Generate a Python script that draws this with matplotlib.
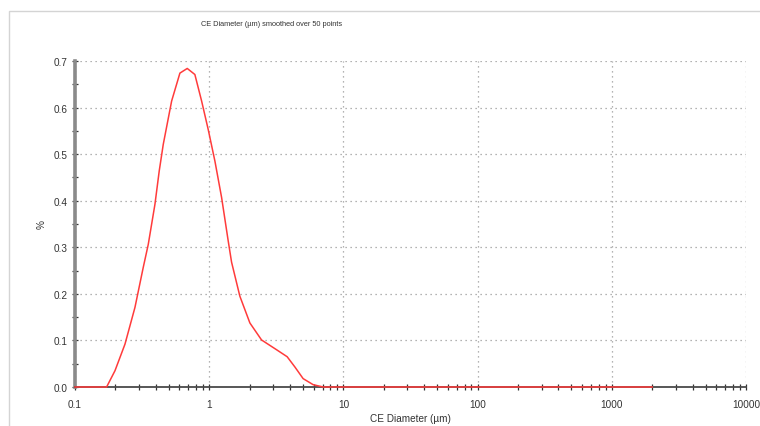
import numpy as np
import matplotlib
matplotlib.use("Agg")
import matplotlib.pyplot as plt
from matplotlib.patches import Rectangle
from matplotlib.ticker import MultipleLocator, LogLocator, FixedLocator

plt.rcParams["font.family"] = ["Liberation Sans", "DejaVu Sans"]

# Particle size distribution (CE diameter in µm vs. volume %)
diameter = [0.1, 0.172, 0.1986, 0.2357, 0.2798, 0.3226, 0.3514, 0.394, 0.4243,
            0.4546, 0.5248, 0.605, 0.686, 0.782, 0.878, 0.983, 1.103, 1.237,
            1.385, 1.468, 1.692, 2.01, 2.455, 3.177, 3.81, 4.35, 5.01, 5.95,
            7.06, 10.0, 100.0, 1000.0, 2000.0]
percent = [0.0, 0.0, 0.035, 0.092, 0.171, 0.257, 0.306, 0.392, 0.464,
           0.521, 0.614, 0.674, 0.684, 0.671, 0.614, 0.553, 0.485, 0.407,
           0.314, 0.268, 0.195, 0.1375, 0.101, 0.080, 0.065, 0.043, 0.018, 0.005,
           0.0, 0.0, 0.0, 0.0, 0.0]

x_ticks = [0.1, 1, 10, 100, 1000, 10000]
x_tick_labels = ["0.1", "1", "10", "100", "1000", "10000"]
y_ticks = [0.0, 0.1, 0.2, 0.3, 0.4, 0.5, 0.6, 0.7]
y_tick_labels = ["0.0", "0.1", "0.2", "0.3", "0.4", "0.5", "0.6", "0.7"]

fig = plt.figure(figsize=(7.6, 4.27), dpi=100)
fig.patch.set_facecolor("white")

# Light frame around the chart panel (runs off the bottom and right edges)
fig.add_artist(Rectangle((9 / 760, -0.05), 1.0, 1.05 - 12 / 427,
                         transform=fig.transFigure, fill=False,
                         edgecolor="#d4d4d4", linewidth=1.0))

ax = fig.add_axes([75 / 760, 39 / 427, 671 / 760, 326 / 427])
ax.set_xscale("log")
ax.set_xlim(0.1, 10000)
ax.set_ylim(0.0, 0.7)

ax.grid(True, which="major", linestyle=(0, (1, 3)), color="#9a9a9a", linewidth=0.9)
ax.set_axisbelow(True)

ax.plot(diameter, percent, color="#ff3b3b", linewidth=1.1, zorder=5,
        clip_on=False, solid_joinstyle="round")

for side in ("top", "right"):
    ax.spines[side].set_visible(False)
ax.spines["left"].set_color("#8a8a8a")
ax.spines["left"].set_linewidth(2.6)
ax.spines["bottom"].set_color("#4a4a4a")
ax.spines["bottom"].set_linewidth(1.3)

ax.xaxis.set_major_locator(FixedLocator(x_ticks))
ax.set_xticklabels(x_tick_labels)
ax.xaxis.set_minor_locator(LogLocator(base=10, subs=np.arange(2, 10)))
ax.yaxis.set_major_locator(FixedLocator(y_ticks))
ax.set_yticklabels(y_tick_labels)
ax.yaxis.set_minor_locator(MultipleLocator(0.05))

ax.tick_params(axis="both", which="both", direction="inout", color="#333333",
               labelsize=7.2, labelcolor="#333333", width=0.9)
ax.tick_params(axis="both", which="major", length=5, pad=3)
ax.tick_params(axis="both", which="minor", length=4)
ax.tick_params(axis="x", which="major", pad=6)

ax.set_xlabel("CE Diameter (µm)", fontsize=7.2, color="#333333", labelpad=3)
ax.set_ylabel("%", fontsize=7.2, color="#333333", labelpad=5)

fig.text(272 / 760, 1 - 24 / 427, "CE Diameter (µm) smoothed over 50 points",
         ha="center", va="center", fontsize=5.3, color="#333333")

fig.savefig("out.png", dpi=100, facecolor="white")
